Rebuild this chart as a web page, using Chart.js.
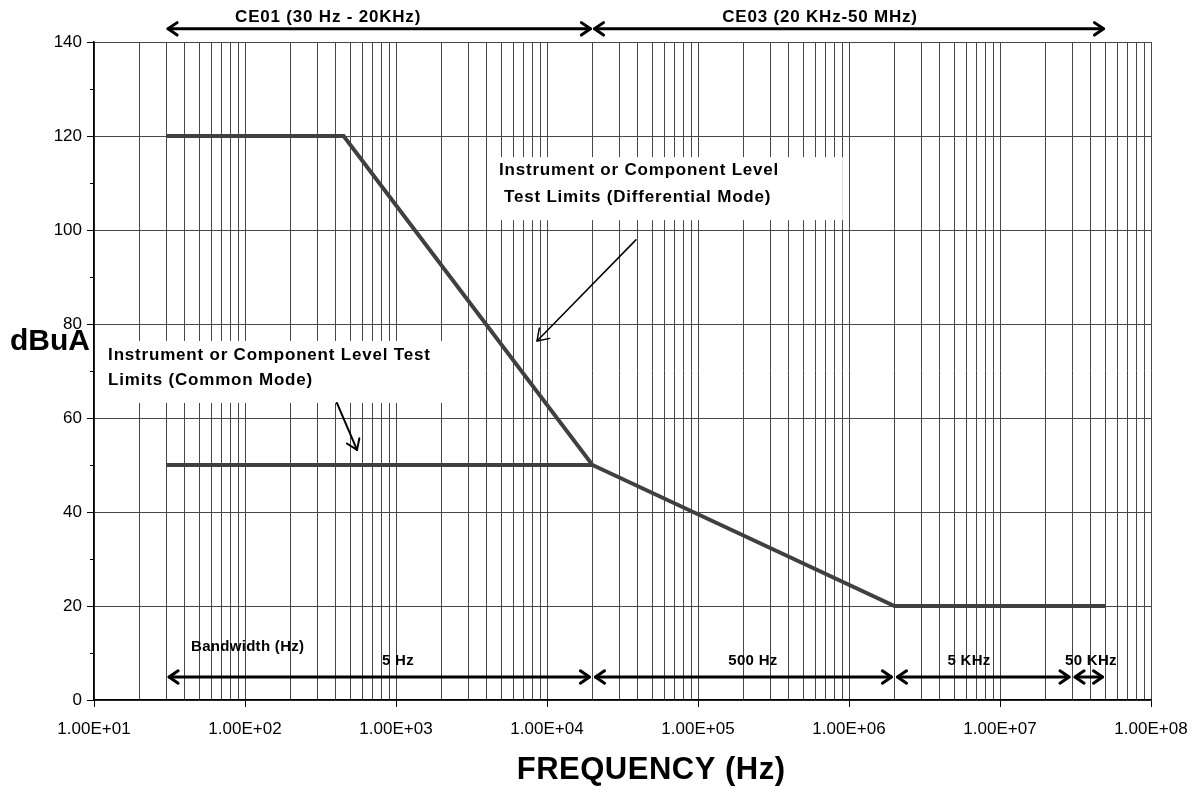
<!DOCTYPE html>
<html>
<head>
<meta charset="utf-8">
<title>CE01 / CE03 test limits</title>
<script src="https://cdn.jsdelivr.net/npm/chart.js@4.4.1/dist/chart.umd.min.js"></script>
<style>
    body { margin: 0; background: #ffffff; }
</style>
</head>
<body>
<canvas id="limitChart" width="1200" height="786"></canvas>
<script>
// differential mode limit (Hz, dBuA)
var diffFreq = [30, 450, 20000, 2000000, 50000000];
var diffLevel = [120, 120, 50, 20, 20];
// common mode limit
var commonFreq = [30, 20000];
var commonLevel = [50, 50];

// test ranges shown above the plot
var rangeStart = [30, 20000];
var rangeEnd = [20000, 50000000];
var rangeLabel = ["CE01 (30 Hz - 20KHz)", "CE03 (20 KHz-50 MHz)"];

// bandwidth bands along the bottom
var bandStart = [30, 20000, 2000000, 30000000];
var bandEnd = [20000, 2000000, 30000000, 50000000];
var bandLabel = ["5 Hz", "500 Hz", "5 KHz", "50 KHz"];

var xTickLabels = ["1.00E+01", "1.00E+02", "1.00E+03", "1.00E+04", "1.00E+05", "1.00E+06", "1.00E+07", "1.00E+08"];

var FONT = "'Liberation Sans', Arial, sans-serif";
var LINE_COLOR = "#404040";
var GRID_COLOR = "#474747";

function isDecade(v) {
    var lg = Math.log10(v);
    return Math.abs(lg - Math.round(lg)) < 1e-9;
}

function toPoints(xs, ys) {
    var pts = [];
    for (var i = 0; i < xs.length; i++) {
        pts.push({ x: xs[i], y: ys[i] });
    }
    return pts;
}

//draws a straight arrow with open chevron heads
function arrow(ctx, x1, y1, x2, y2, width, head, both) {
    ctx.save();
    ctx.strokeStyle = "#000";
    ctx.lineWidth = width;
    ctx.lineCap = "round";
    ctx.lineJoin = "round";
    ctx.beginPath();
    ctx.moveTo(x1, y1);
    ctx.lineTo(x2, y2);
    ctx.stroke();
    var heads = both ? [[x2, y2, x1, y1], [x1, y1, x2, y2]] : [[x1, y1, x2, y2]];
    heads.forEach(function (h) {
        var a = Math.atan2(h[3] - h[1], h[2] - h[0]);
        ctx.beginPath();
        ctx.moveTo(h[2] - head * Math.cos(a - 0.6), h[3] - head * Math.sin(a - 0.6));
        ctx.lineTo(h[2], h[3]);
        ctx.lineTo(h[2] - head * Math.cos(a + 0.6), h[3] - head * Math.sin(a + 0.6));
        ctx.stroke();
    });
    ctx.restore();
}

function label(ctx, text, x, y, size, align, spacing) {
    ctx.save();
    ctx.fillStyle = "#000";
    ctx.font = "bold " + size + "px " + FONT;
    ctx.textAlign = align;
    ctx.textBaseline = "middle";
    ctx.letterSpacing = (spacing || 0) + "px";
    ctx.fillText(text, x, y);
    ctx.restore();
}

//annotations placed in data coordinates
var annotate = {
    id: "annotate",
    afterDatasetsDraw: function (chart) {
        var ctx = chart.ctx;
        var sx = chart.scales.x;
        var sy = chart.scales.y;
        var px = function (f) { return sx.getPixelForValue(f); };
        var py = function (v) { return sy.getPixelForValue(v); };

        // short minor ticks on the y axis
        ctx.save();
        ctx.strokeStyle = "#000";
        ctx.lineWidth = 1;
        sy.ticks.forEach(function (t) {
            if (t.value % 20 !== 0) {
                var y = Math.round(py(t.value)) + 0.5;
                ctx.beginPath();
                ctx.moveTo(sx.left - 4, y);
                ctx.lineTo(sx.left, y);
                ctx.stroke();
            }
        });
        ctx.restore();

        // white label boxes hiding the grid
        ctx.save();
        ctx.fillStyle = "#ffffff";
        ctx.fillRect(px(10) + 1, py(76.4), px(2110) - px(10) - 1, py(63.2) - py(76.4));
        ctx.fillRect(px(4060), py(115.5), px(910000) - px(4060), py(102.1) - py(115.5));
        ctx.restore();

        label(ctx, "Instrument or Component Level Test", px(12.4), py(73.4), 17, "left", 0.8);
        label(ctx, "Limits (Common Mode)", px(12.4), py(68.1), 17, "left", 0.8);
        label(ctx, "Instrument or Component Level", px(4810), py(112.6), 17, "left", 0.8);
        label(ctx, "Test Limits (Differential Mode)", px(5190), py(107), 17, "left", 0.8);

        arrow(ctx, px(38800), py(97.9), px(8590), py(76.4), 1.5, 13, false);
        arrow(ctx, px(406), py(63.2), px(552), py(53.2), 2, 12, false);

        // test ranges above the plot
        var rangeCenter = [355, 643000];
        for (var i = 0; i < rangeStart.length; i++) {
            arrow(ctx, px(rangeStart[i]) + 2, py(142.8), px(rangeEnd[i]) - 2, py(142.8), 3, 11, true);
            label(ctx, rangeLabel[i], px(rangeCenter[i]), py(145.3), 17, "center", 0.8);
        }

        // bandwidth bands
        var bandCenter = [1030, 231000, 6240000, 40000000];
        for (var j = 0; j < bandStart.length; j++) {
            arrow(ctx, px(bandStart[j]) + 3, py(4.9), px(bandEnd[j]) - 3, py(4.9), 3, 11, true);
            label(ctx, bandLabel[j], px(bandCenter[j]), py(8.3), 15, "center", 0.3);
        }
        label(ctx, "Bandwidth (Hz)", px(43.9), py(11.3), 15, "left", 0.3);

        // axis titles
        label(ctx, "dBuA", 10, py(76.2), 30, "left", 0);
        label(ctx, "FREQUENCY (Hz)", px(48900), 770, 31, "center", 0.5);
    }
};

var chart = new Chart(document.getElementById("limitChart").getContext("2d"), {
    type: "line",
    data: {
        datasets: [
            {
                label: "Differential Mode",
                data: toPoints(diffFreq, diffLevel),
                borderColor: LINE_COLOR,
                borderWidth: 4,
                pointRadius: 0,
                fill: false,
                tension: 0
            },
            {
                label: "Common Mode",
                data: toPoints(commonFreq, commonLevel),
                borderColor: LINE_COLOR,
                borderWidth: 4,
                pointRadius: 0,
                fill: false,
                tension: 0
            }
        ]
    },
    options: {
        responsive: false,
        animation: false,
        devicePixelRatio: 1,
        layout: { padding: { top: 42, right: 49, left: 0, bottom: 0 } },
        plugins: {
            legend: { display: false },
            tooltip: { enabled: false }
        },
        scales: {
            x: {
                type: "logarithmic",
                min: 10,
                max: 100000000,
                afterBuildTicks: function (scale) {
                    var t = [];
                    for (var e = 1; e < 8; e++) {
                        for (var m = 1; m < 10; m++) {
                            t.push({ value: m * Math.pow(10, e) });
                        }
                    }
                    t.push({ value: 100000000 });
                    scale.ticks = t;
                },
                afterFit: function (scale) { scale.height = 86; },
                grid: {
                    color: GRID_COLOR,
                    lineWidth: 1,
                    tickLength: 7,
                    tickColor: function (c) { return c.tick && isDecade(c.tick.value) ? "#000" : "rgba(0,0,0,0)"; }
                },
                border: { color: "#000", width: 1.5 },
                ticks: {
                    autoSkip: false,
                    maxRotation: 0,
                    padding: 12,
                    color: "#000",
                    font: { family: FONT, size: 17 },
                    callback: function (value) {
                        if (!isDecade(value)) return "";
                        return xTickLabels[Math.round(Math.log10(value)) - 1];
                    }
                }
            },
            y: {
                type: "linear",
                min: 0,
                max: 140,
                afterFit: function (scale) { scale.width = 94; },
                grid: {
                    color: function (c) { return c.tick && c.tick.value % 20 === 0 ? GRID_COLOR : "rgba(0,0,0,0)"; },
                    lineWidth: 1,
                    tickLength: 7,
                    tickColor: function (c) { return c.tick && c.tick.value % 20 === 0 ? "#000" : "rgba(0,0,0,0)"; }
                },
                border: { color: "#000", width: 1.5 },
                ticks: {
                    stepSize: 10,
                    padding: 5,
                    color: "#000",
                    font: { family: FONT, size: 17 },
                    callback: function (value) { return value % 20 === 0 ? value : ""; }
                }
            }
        }
    },
    plugins: [annotate]
});
</script>
</body>
</html>
